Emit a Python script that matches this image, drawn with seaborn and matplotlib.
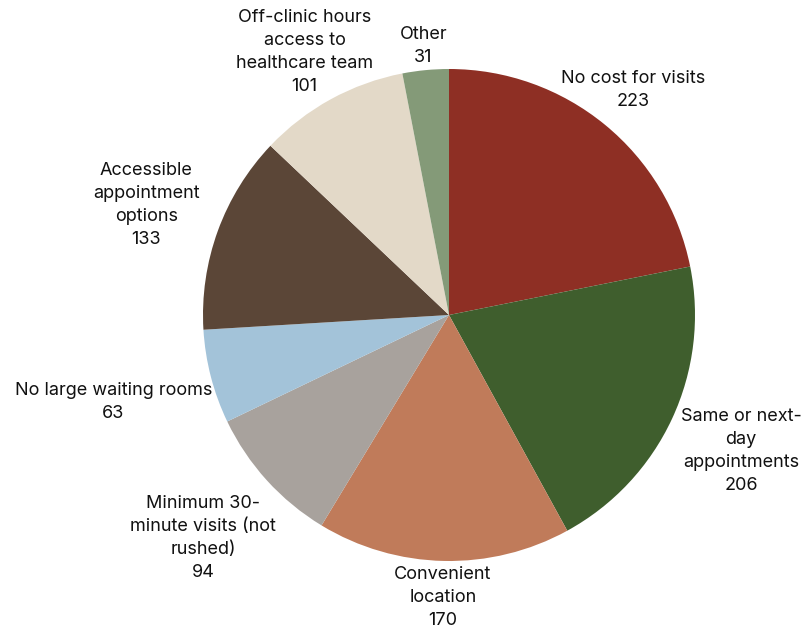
import numpy as np
import matplotlib
matplotlib.use("Agg")
import matplotlib.pyplot as plt
import seaborn as sns

sns.set_theme(style="white")
plt.rcParams["font.family"] = ["Inter", "DejaVu Sans"]

labels = ["No cost for visits", "Same or next-\nday\nappointments", "Convenient\nlocation",
          "Minimum 30-\nminute visits (not\nrushed)", "No large waiting rooms",
          "Accessible\nappointment\noptions", "Off-clinic hours\naccess to\nhealthcare team", "Other"]
values = [223, 206, 170, 94, 63, 133, 101, 31]
colors = ["#8E2F24", "#3F5E2D", "#C07B5A", "#A8A29D", "#A3C3D9", "#5B4637", "#E3D9C8", "#849A78"]
# label distance from centre, in radii
label_dist = [1.18, 1.31, 1.15, 1.35, 1.41, 1.31, 1.22, 1.10]

fig = plt.figure(figsize=(8.05, 6.28), dpi=100)
ax = fig.add_axes([203 / 805, 1 - 561 / 628, 492 / 805, 492 / 628])
wedges, _ = ax.pie(values, colors=colors, startangle=90, counterclock=False,
                   radius=1, wedgeprops=dict(linewidth=0))
ax.set_xlim(-1, 1)
ax.set_ylim(-1, 1)

total = sum(values)
cum = np.cumsum([0] + values)
for i, (lab, v) in enumerate(zip(labels, values)):
    mid = (cum[i] + v / 2) / total * 2 * np.pi
    x = np.sin(mid) * label_dist[i]
    y = np.cos(mid) * label_dist[i]
    ax.text(x, y, f"{lab}\n{v}", ha="center", va="center", multialignment="center",
            fontsize=13, color="#111111", linespacing=1.45, clip_on=False)

fig.savefig("out.png", dpi=100)
